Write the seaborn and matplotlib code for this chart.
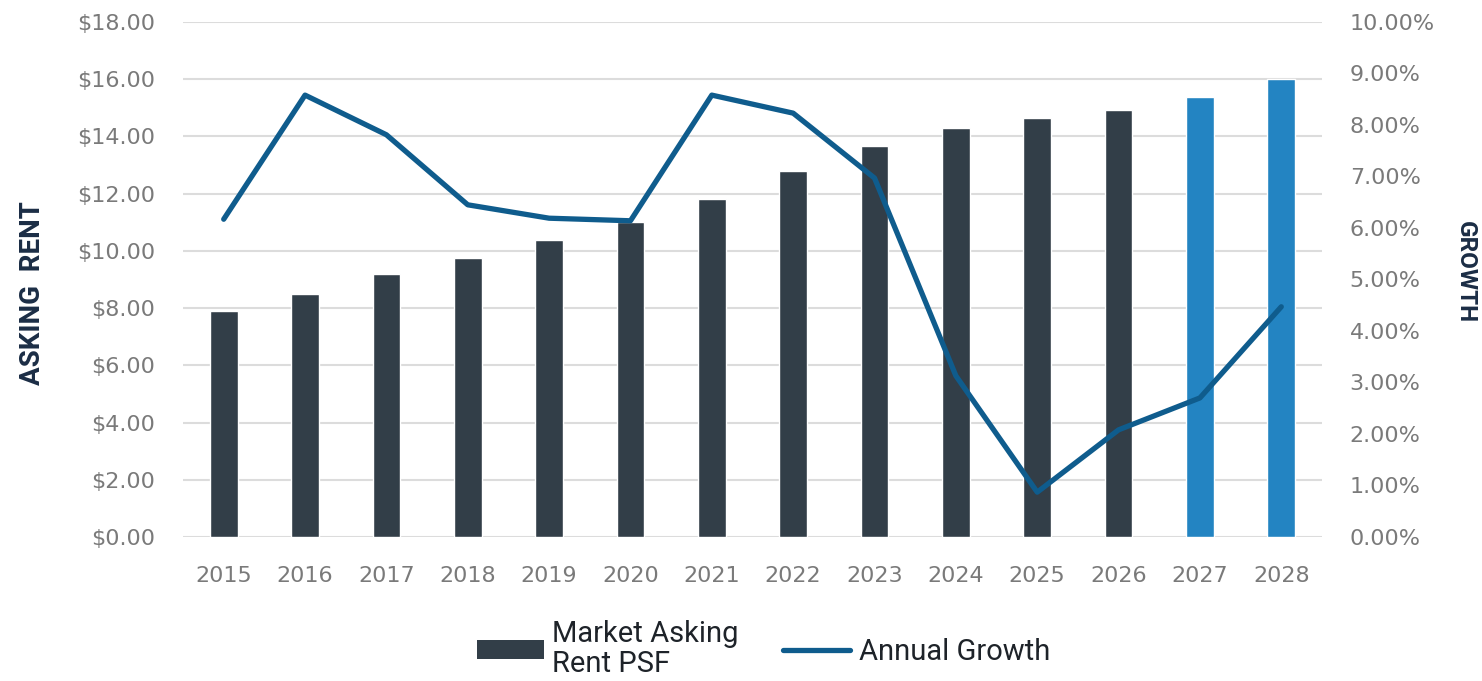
import numpy as np
import pandas as pd
import matplotlib
matplotlib.use("Agg")
import matplotlib.pyplot as plt
import seaborn as sns
from matplotlib.patches import Patch
from matplotlib.lines import Line2D
from matplotlib.ticker import FuncFormatter, MultipleLocator

years = ["2015", "2016", "2017", "2018", "2019", "2020", "2021",
         "2022", "2023", "2024", "2025", "2026", "2027", "2028"]
asking_rent = [7.90, 8.50, 9.18, 9.75, 10.38, 11.01, 11.81,
               12.78, 13.67, 14.30, 14.65, 14.93, 15.38, 16.01]
annual_growth = [6.17, 8.58, 7.81, 6.45, 6.19, 6.14, 8.58,
                 8.23, 6.97, 3.13, 0.87, 2.08, 2.70, 4.47]
is_forecast = [False] * 12 + [True] * 2

DARK = "#323e48"
FORE = "#2384c2"
LINE = "#0f5c8d"
TICK = "#7a7a7a"
NAVY = "#1b2d45"

sns.set_theme(style="white")
plt.rcParams["font.family"] = ["DejaVu Sans"]

fig = plt.figure(figsize=(14.82, 6.81), dpi=100)
ax = fig.add_axes([0.1235, 0.2115, 0.7685, 0.7562])

df = pd.DataFrame({"year": years, "rent": asking_rent})
palette = [FORE if f else DARK for f in is_forecast]
sns.barplot(data=df, x="year", y="rent", hue="year", palette=palette,
            width=0.34, legend=False, ax=ax, saturation=1)

ax.set_ylim(0, 18)
ax.set_xlim(-0.5, 13.5)
ax.yaxis.set_major_locator(MultipleLocator(2))
ax.yaxis.set_major_formatter(FuncFormatter(lambda v, p: f"${v:.2f}"))
ax.grid(axis="y", color="#dcdcdc", linewidth=1.5)
ax.set_axisbelow(True)
for s in ax.spines.values():
    s.set_visible(False)
ax.tick_params(axis="both", colors=TICK, labelsize=16, length=0)
ax.tick_params(axis="y", pad=20)
ax.tick_params(axis="x", pad=21)
ax.set_xlabel("")
ax.set_ylabel("")

ax2 = ax.twinx()
sns.lineplot(x=np.arange(len(years)), y=annual_growth, ax=ax2,
             color=LINE, linewidth=3.8)
ax2.set_ylim(0, 10)
ax2.set_xlim(-0.5, 13.5)
ax2.yaxis.set_major_locator(MultipleLocator(1))
ax2.yaxis.set_major_formatter(FuncFormatter(lambda v, p: f"{v:.2f}%"))
for s in ax2.spines.values():
    s.set_visible(False)
ax2.tick_params(axis="y", colors=TICK, labelsize=16, length=0, pad=20)
ax2.set_ylabel("")

fig.text(0.0216, 0.5698, "ASKING  RENT", rotation=90, ha="center", va="center",
         fontsize=20, fontweight="bold", color=NAVY, family=["Roboto", "DejaVu Sans"])
fig.text(0.9885, 0.6006, "GROWTH", rotation=-90, ha="center", va="center",
         fontsize=17.5, fontweight="bold", color=NAVY, family=["Roboto", "DejaVu Sans"])

handles = [Patch(facecolor=DARK, edgecolor="none"),
           Line2D([0], [0], color=LINE, linewidth=3.8)]
labels = ["Market Asking\nRent PSF", "Annual Growth"]
leg = fig.legend(handles, labels, loc="center", bbox_to_anchor=(0.515, 0.047),
                 ncol=2, frameon=False, handlelength=2.3,
                 handleheight=0.65, handletextpad=0.3, columnspacing=1.5,
                 prop={"family": ["Roboto", "DejaVu Sans"], "size": 21})
for t in leg.get_texts():
    t.set_color("#1e2329")
    t.set_linespacing(1.05)

fig.savefig("out.png", dpi=100)
